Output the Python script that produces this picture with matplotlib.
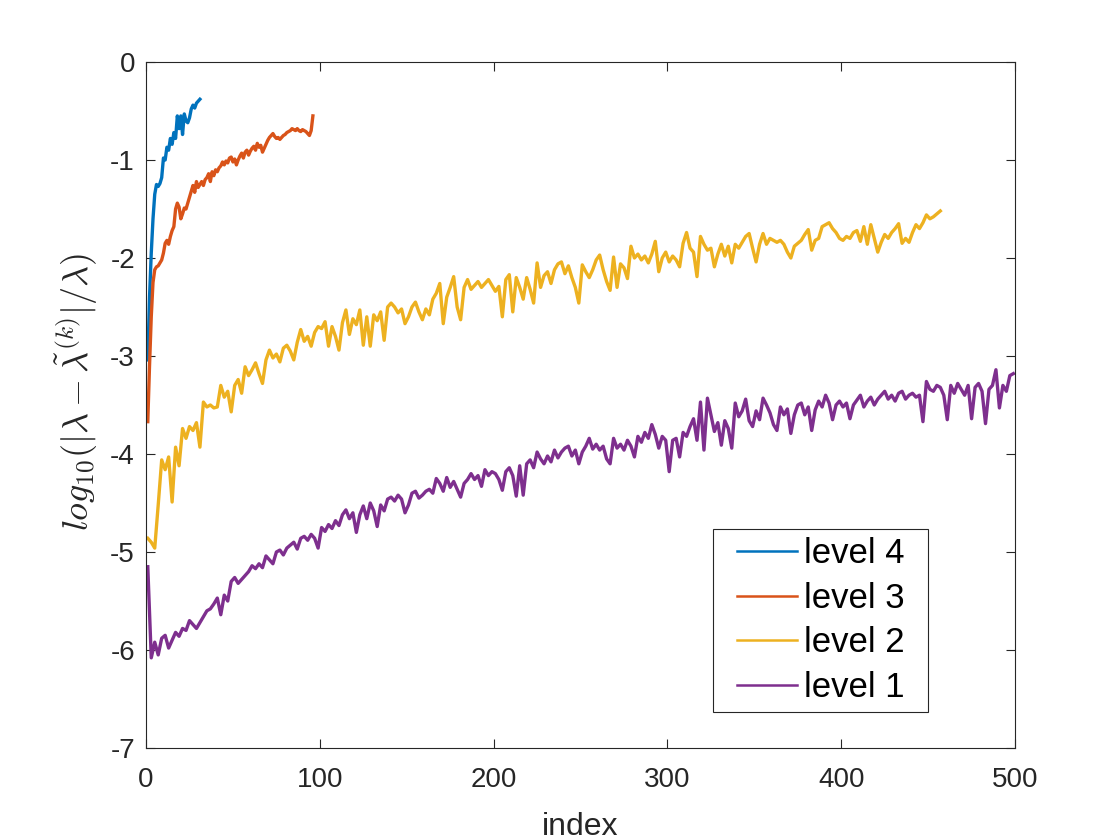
#!/usr/bin/env python3
"""Relative eigenvalue error per index for four levels (MATLAB-style figure)."""

import matplotlib

matplotlib.use("Agg")

import matplotlib.pyplot as plt
import numpy as np
from matplotlib.patches import Rectangle

# level 4: every index 1..31
level4 = [
    -3.04, -2.40, -1.95, -1.60, -1.35, -1.25, -1.27, -1.24, -1.18, -0.98,
    -1.00, -0.87, -0.90, -0.78, -0.84, -0.72, -0.78, -0.55, -0.68, -0.55,
    -0.74, -0.53, -0.60, -0.62, -0.57, -0.48, -0.44, -0.47, -0.42, -0.40,
    -0.38,
]

# level 3: every index 1..96
level3 = [
    -3.67, -3.10, -2.60, -2.25, -2.12, -2.09, -2.08, -2.05, -2.02, -1.95,
    -1.85, -1.82, -1.86, -1.78, -1.72, -1.68, -1.50, -1.44, -1.48, -1.60,
    -1.55, -1.49, -1.50, -1.44, -1.38, -1.32, -1.26, -1.33, -1.22, -1.28,
    -1.25, -1.22, -1.26, -1.20, -1.18, -1.14, -1.22, -1.12, -1.16, -1.10,
    -1.12, -1.08, -1.06, -1.02, -1.05, -1.01, -1.03, -0.98, -0.97, -1.02,
    -0.99, -1.05, -1.00, -0.96, -0.93, -0.98, -0.92, -0.90, -0.95, -0.91,
    -0.88, -0.86, -0.90, -0.83, -0.87, -0.85, -0.92, -0.88, -0.84, -0.80,
    -0.77, -0.75, -0.73, -0.76, -0.78, -0.77, -0.79, -0.77, -0.75, -0.74,
    -0.72, -0.71, -0.70, -0.68, -0.69, -0.70, -0.68, -0.70, -0.71, -0.69,
    -0.70, -0.71, -0.73, -0.75, -0.70, -0.55,
]

# level 2: odd indices 1..457
level2 = [
    -4.86, -4.90, -4.96, -4.52, -4.06, -4.16, -4.03, -4.49, -3.93, -4.12,
    -3.74, -3.84, -3.72, -3.76, -3.68, -3.93, -3.47, -3.52, -3.50, -3.53,
    -3.52, -3.30, -3.42, -3.36, -3.57, -3.30, -3.24, -3.38, -3.11, -3.20,
    -3.14, -3.07, -3.18, -3.28, -3.04, -2.94, -3.02, -2.98, -3.06, -2.92,
    -2.89, -2.95, -3.04, -2.86, -2.73, -2.85, -2.80, -2.90, -2.76, -2.70,
    -2.72, -2.65, -2.90, -2.70, -2.80, -2.94, -2.66, -2.53, -2.78, -2.62,
    -2.68, -2.53, -2.89, -2.60, -2.90, -2.58, -2.64, -2.55, -2.84, -2.50,
    -2.46, -2.50, -2.56, -2.52, -2.67, -2.60, -2.50, -2.45, -2.55, -2.63,
    -2.52, -2.58, -2.42, -2.36, -2.26, -2.67, -2.40, -2.30, -2.19, -2.50,
    -2.63, -2.30, -2.22, -2.32, -2.28, -2.24, -2.30, -2.26, -2.22, -2.28,
    -2.34, -2.29, -2.60, -2.22, -2.17, -2.55, -2.20, -2.30, -2.42, -2.20,
    -2.32, -2.46, -2.05, -2.30, -2.18, -2.14, -2.26, -2.12, -2.06, -2.04,
    -2.16, -2.08, -2.20, -2.30, -2.46, -2.07, -2.14, -2.20, -2.12, -2.02,
    -1.97, -2.12, -2.24, -2.33, -1.99, -2.30, -2.06, -2.10, -2.21, -1.88,
    -2.00, -1.96, -2.02, -1.98, -2.05, -1.96, -1.83, -2.14, -2.00, -1.94,
    -2.04, -1.98, -2.02, -2.09, -1.85, -1.74, -1.90, -1.94, -2.19, -1.78,
    -1.86, -1.92, -1.90, -2.09, -1.96, -1.86, -1.98, -1.88, -2.05, -1.86,
    -1.90, -1.84, -1.78, -1.75, -1.90, -2.04, -1.86, -1.75, -1.86, -1.80,
    -1.82, -1.84, -1.82, -1.86, -1.94, -2.00, -1.88, -1.85, -1.82, -1.76,
    -1.71, -1.92, -1.82, -1.80, -1.68, -1.66, -1.64, -1.70, -1.74, -1.80,
    -1.82, -1.78, -1.80, -1.74, -1.72, -1.83, -1.68, -1.86, -1.66, -1.80,
    -1.94, -1.84, -1.76, -1.80, -1.74, -1.70, -1.65, -1.85, -1.80, -1.84,
    -1.74, -1.66, -1.70, -1.64, -1.56, -1.60, -1.58, -1.55, -1.52,
]

# level 1: odd indices 1..499
level1 = [
    -5.15, -6.08, -5.92, -6.05, -5.88, -5.85, -5.98, -5.90, -5.82, -5.86,
    -5.78, -5.80, -5.70, -5.74, -5.78, -5.72, -5.66, -5.60, -5.58, -5.53,
    -5.47, -5.64, -5.44, -5.50, -5.30, -5.26, -5.32, -5.28, -5.24, -5.20,
    -5.14, -5.17, -5.12, -5.16, -5.04, -5.08, -5.12, -5.00, -4.98, -5.03,
    -4.96, -4.93, -4.90, -4.97, -4.86, -4.84, -4.88, -4.82, -4.86, -4.96,
    -4.75, -4.79, -4.72, -4.76, -4.68, -4.73, -4.62, -4.57, -4.66, -4.60,
    -4.80, -4.62, -4.53, -4.66, -4.50, -4.58, -4.74, -4.52, -4.58, -4.46,
    -4.44, -4.48, -4.42, -4.46, -4.60, -4.52, -4.40, -4.38, -4.45, -4.42,
    -4.38, -4.36, -4.40, -4.25, -4.30, -4.38, -4.24, -4.34, -4.28, -4.36,
    -4.44, -4.30, -4.26, -4.20, -4.26, -4.22, -4.33, -4.16, -4.22, -4.18,
    -4.20, -4.26, -4.37, -4.18, -4.14, -4.22, -4.43, -4.12, -4.42, -4.10,
    -4.06, -4.14, -3.98, -4.05, -4.10, -4.02, -4.08, -3.96, -4.04, -3.98,
    -3.94, -3.92, -4.02, -3.96, -4.10, -3.98, -3.92, -3.84, -3.95, -3.90,
    -3.96, -3.92, -4.05, -4.10, -3.84, -3.94, -3.90, -3.96, -3.86, -3.92,
    -4.03, -3.82, -3.88, -3.78, -3.84, -3.70, -3.80, -3.94, -3.82, -3.86,
    -4.18, -3.86, -3.84, -4.03, -3.78, -3.82, -3.72, -3.64, -3.86, -3.47,
    -3.96, -3.43, -3.60, -3.77, -3.68, -3.91, -3.66, -3.74, -3.94, -3.48,
    -3.62, -3.56, -3.44, -3.66, -3.72, -3.56, -3.65, -3.43, -3.50, -3.58,
    -3.70, -3.76, -3.52, -3.60, -3.54, -3.79, -3.60, -3.50, -3.48, -3.60,
    -3.52, -3.76, -3.55, -3.46, -3.52, -3.40, -3.48, -3.65, -3.50, -3.46,
    -3.52, -3.48, -3.64, -3.50, -3.45, -3.40, -3.52, -3.46, -3.42, -3.50,
    -3.44, -3.40, -3.36, -3.44, -3.40, -3.46, -3.38, -3.36, -3.44, -3.40,
    -3.38, -3.42, -3.40, -3.67, -3.26, -3.34, -3.36, -3.30, -3.32, -3.40,
    -3.65, -3.30, -3.38, -3.28, -3.34, -3.40, -3.30, -3.64, -3.32, -3.28,
    -3.36, -3.69, -3.34, -3.30, -3.14, -3.53, -3.30, -3.36, -3.20, -3.18,
]

labels = ["level 4", "level 3", "level 2", "level 1"]
colors = ["#0072BD", "#D95319", "#EDB120", "#7E2F8E"]
x_ticks = [0, 100, 200, 300, 400, 500]
y_ticks = [-7, -6, -5, -4, -3, -2, -1, 0]

INK = "#262626"


def main() -> None:
    plt.rcParams["font.family"] = ["Liberation Sans", "DejaVu Sans"]
    plt.rcParams["mathtext.fontset"] = "cm"

    fig = plt.figure(figsize=(11.2, 8.4), dpi=100)
    ax = fig.add_axes([0.1304, 0.1095, 0.7759, 0.8167])

    series = [
        (np.arange(1, len(level4) + 1), level4),
        (np.arange(1, len(level3) + 1), level3),
        (np.arange(1, 2 * len(level2), 2), level2),
        (np.arange(1, 2 * len(level1), 2), level1),
    ]
    for (x, y), label, color in zip(series, labels, colors):
        ax.plot(x, y, color=color, linewidth=2.4, label=label)

    ax.set_xlim(0, 500)
    ax.set_ylim(-7, 0)
    ax.set_xticks(x_ticks)
    ax.set_yticks(y_ticks)
    ax.set_yticklabels([str(t) for t in y_ticks])

    ax.tick_params(direction="in", length=6.5, width=0.8, top=True, right=True,
                   labelsize=20, colors=INK)
    ax.tick_params(axis="x", pad=14)
    ax.tick_params(axis="y", pad=8)
    for spine in ax.spines.values():
        spine.set_color(INK)
        spine.set_linewidth(0.8)

    ax.set_xlabel("index", fontsize=23, color=INK, labelpad=13)
    ax.set_ylabel(r"$log_{10}(|\lambda-\tilde{\lambda}^{(k)}|/\lambda)$",
                  fontsize=26, color=INK)
    ax.yaxis.set_label_coords(-0.053, 0.519)

    # legend frame drawn separately: MATLAB pads more on the sides than top/bottom
    box = Rectangle((0.6525, 0.0525), 0.2474, 0.2668, transform=ax.transAxes,
                    facecolor="white", edgecolor=INK, linewidth=0.8, zorder=4)
    ax.add_patch(box)
    leg = ax.legend(loc="center", bbox_to_anchor=(0.6525 + 0.2474 / 2, 0.0525 + 0.2668 / 2),
                    fontsize=25, frameon=False, handlelength=1.72, handletextpad=0.2,
                    labelspacing=0.33, borderpad=0.0, borderaxespad=0.0)
    leg.set_zorder(5)
    for handle in leg.get_lines():
        handle.set_linewidth(1.8)
    for text in leg.get_texts():
        text.set_color("black")

    fig.savefig("out.png", dpi=100, facecolor="white")
    plt.close(fig)


if __name__ == "__main__":
    main()
